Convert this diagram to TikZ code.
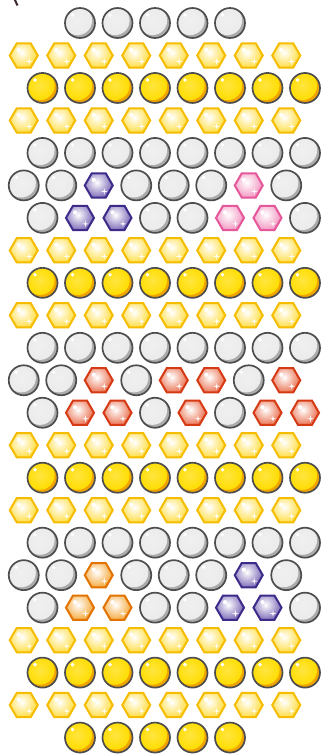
\documentclass[tikz,border=0pt]{standalone}
\usepackage{tikz}
\usetikzlibrary{shapes.geometric}

\definecolor{rim}{HTML}{4D4D4D}
\definecolor{ballgrey}{HTML}{EBEBEB}
\definecolor{ballgreydark}{HTML}{ABABAB}
\definecolor{ballgold}{HTML}{FFDD00}
\definecolor{ballgolddark}{HTML}{F0A400}
\definecolor{goldrim}{HTML}{F5BC00}
\definecolor{goldfill}{HTML}{FFD61A}
\definecolor{violetrim}{HTML}{3D2B8A}
\definecolor{violetfill}{HTML}{6049A8}
\definecolor{pinkrim}{HTML}{E5579A}
\definecolor{pinkfill}{HTML}{EF80B3}
\definecolor{redrim}{HTML}{D63A14}
\definecolor{redfill}{HTML}{E5532B}
\definecolor{orangerim}{HTML}{E27300}
\definecolor{orangefill}{HTML}{F39612}
\definecolor{inkmark}{HTML}{3B2A2A}

\tikzset{
  ball/.style 2 args={circle, minimum size=7.5mm, inner sep=0pt, line width=0.42mm, draw=rim, fill=#1,
    path picture={
      \fill[#2] (path picture bounding box.center) circle (18);
      \shade[inner color=#1!75!white, outer color=#1] ([shift={(-2.5,-2.5)}]path picture bounding box.center) circle (14.6);
      \fill[white] ([shift={(-7.5,-8)}]path picture bounding box.center) circle (1.9);
    }},
  gem/.style 2 args={regular polygon, regular polygon sides=6, minimum size=7mm, inner sep=0pt, line width=0.5mm, draw=#1, fill=#2,
    path picture={
      \shade[inner color=white, outer color=#2] ([shift={(-2,-3)}]path picture bounding box.center) circle (19);
      \fill[white] ([shift={(-5,-5.5)}]path picture bounding box.center) circle (2.1);
      \fill[white] ([shift={(-1,-2)}]path picture bounding box.center) circle (0.8);
      \fill[white] ([shift={(5.5,6)}]path picture bounding box.center)
        +(0,-3.5) -- +(0.6,-0.6) -- +(3.5,0) -- +(0.6,0.6) -- +(0,3.5) -- +(-0.6,0.6) -- +(-3.5,0) -- +(-0.6,-0.6) -- cycle;
    }},
  kind g/.style={ball={ballgrey}{ballgreydark}},
  kind y/.style={ball={ballgold}{ballgolddark}},
  kind Y/.style={gem={goldrim}{goldfill}},
  kind P/.style={gem={violetrim}{violetfill}},
  kind K/.style={gem={pinkrim}{pinkfill}},
  kind R/.style={gem={redrim}{redfill}},
  kind O/.style={gem={orangerim}{orangefill}}
}

\begin{document}
\begin{tikzpicture}[x=0.25mm, y=-0.25mm]
    \useasboundingbox (0,0) rectangle (322,756);

    % rows of beads, top to bottom
    \foreach \row/\xo/\pcs in {
        0/80/{g,g,g,g,g},
        1/23.75/{Y,Y,Y,Y,Y,Y,Y,Y},
        2/42.5/{y,y,y,y,y,y,y,y},
        3/23.75/{Y,Y,Y,Y,Y,Y,Y,Y},
        4/42.5/{g,g,g,g,g,g,g,g},
        5/23.75/{g,g,P,g,g,g,K,g},
        6/42.5/{g,P,P,g,g,K,K,g},
        7/23.75/{Y,Y,Y,Y,Y,Y,Y,Y},
        8/42.5/{y,y,y,y,y,y,y,y},
        9/23.75/{Y,Y,Y,Y,Y,Y,Y,Y},
        10/42.5/{g,g,g,g,g,g,g,g},
        11/23.75/{g,g,R,g,R,R,g,R},
        12/42.5/{g,R,R,g,R,g,R,R},
        13/23.75/{Y,Y,Y,Y,Y,Y,Y,Y},
        14/42.5/{y,y,y,y,y,y,y,y},
        15/23.75/{Y,Y,Y,Y,Y,Y,Y,Y},
        16/42.5/{g,g,g,g,g,g,g,g},
        17/23.75/{g,g,O,g,g,g,P,g},
        18/42.5/{g,O,O,g,g,P,P,g},
        19/23.75/{Y,Y,Y,Y,Y,Y,Y,Y},
        20/42.5/{y,y,y,y,y,y,y,y},
        21/23.75/{Y,Y,Y,Y,Y,Y,Y,Y},
        22/80/{y,y,y,y,y}}
      \foreach \pc [count=\k from 0] in \pcs
        \node[kind \pc] (b\row-\k) at (\xo+37.5*\k, 23+32.48*\row) {};

    % cut-off mark in the corner
    \draw[inkmark, line width=0.5mm] (14.5,-1) -- (17.5,5.5);
\end{tikzpicture}
\end{document}
